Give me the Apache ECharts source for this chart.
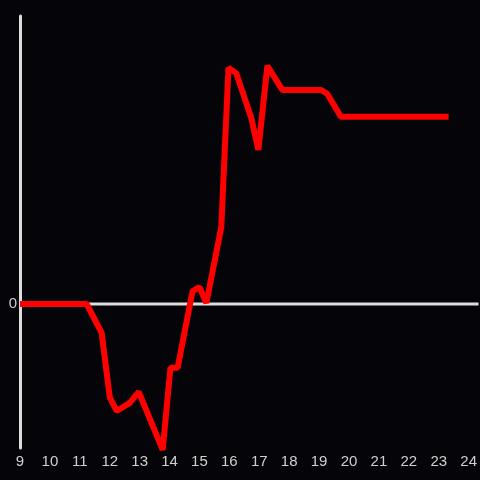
<!DOCTYPE html>
<html>
<head>
<meta charset="utf-8">
<script src="https://cdn.jsdelivr.net/npm/echarts@6/dist/echarts.min.js"></script>
<style>
  html,body{margin:0;padding:0;background:#050408;}
  #main{width:480px;height:480px;}
</style>
</head>
<body>
<div id="main"></div>
<script>
// 时间(小时)与数值
var hours = [9.0, 11.23, 11.73, 12.0, 12.23, 12.67, 12.97, 13.77, 14.03, 14.27, 14.77, 15.0, 15.23, 15.73, 15.97, 16.23, 16.73, 16.97, 17.27, 17.77, 19.07, 19.27, 19.73, 23.33];
var values = [0, 0, -0.6, -1.94, -2.23, -2.06, -1.83, -3.04, -1.33, -1.33, 0.27, 0.35, 0.02, 1.6, 4.92, 4.81, 3.88, 3.21, 4.96, 4.46, 4.46, 4.38, 3.9, 3.9];
var yTicks = [0];  //只显示0
var xRange = [9, 24.33];

var points = [];
for (var i = 0; i < hours.length; i++) {
    points.push([hours[i], values[i]]);
}

var myChart = echarts.init(document.getElementById('main'));
var option = {
    backgroundColor: '#050408',
    animation: false,
    grid: {left: 20, right: 0, top: 16, bottom: 32},
    xAxis: {
        type: 'value',
        min: xRange[0],
        max: xRange[1],
        interval: 1,
        axisLine: {show: false},
        axisTick: {show: false},
        splitLine: {show: false},
        axisLabel: {
            color: '#d0d0d0',
            fontSize: 15,
            margin: 6,
            showMaxLabel: false,
            formatter: function (v) { return Number.isInteger(v) ? String(v) : ''; }
        }
    },
    yAxis: {
        type: 'value',
        min: -3,
        max: 6,
        interval: 3,
        axisLine: {show: true, onZero: false, lineStyle: {color: '#dddddd', width: 3}},
        axisTick: {show: false},
        splitLine: {show: false},
        axisLabel: {
            color: '#d0d0d0',
            fontSize: 15,
            margin: 3,
            formatter: function (v) { return yTicks.indexOf(v) >= 0 ? String(v) : ''; }
        }
    },
    series: [{
        // 零线
        type: 'line',
        data: [[xRange[0], 0], [xRange[1], 0]],
        showSymbol: false,
        silent: true,
        lineStyle: {color: '#dddddd', width: 3},
        z: 1
    }, {
        type: 'line',
        data: points,
        clip: false,
        showSymbol: false,
        lineStyle: {color: '#ff0000', width: 6},
        z: 3
    }]
};
myChart.setOption(option);
</script>
</body>
</html>
